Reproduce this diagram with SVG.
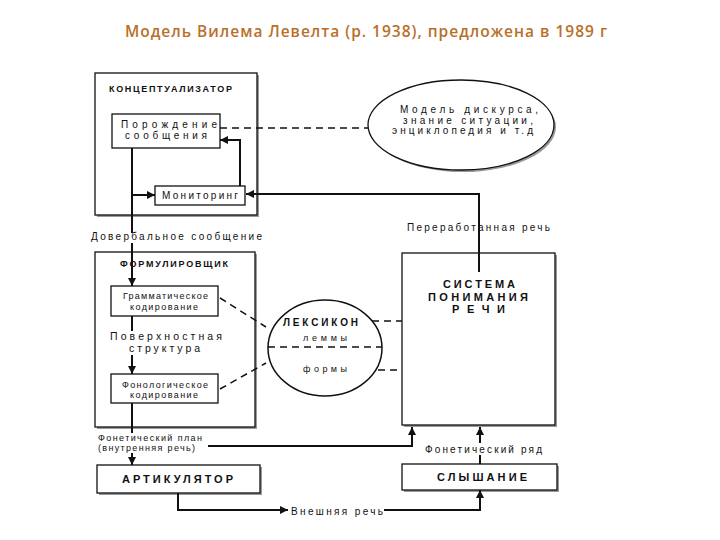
<svg xmlns="http://www.w3.org/2000/svg" width="720" height="540" viewBox="0 0 720 540">
<style>
text{font-family:"Liberation Sans",Arial,sans-serif;fill:#111}
.title{font-family:"Open Sans","Liberation Sans",sans-serif;font-size:15.5px;font-weight:600;fill:#b8702a}
.r9{font-size:9px}
.r10{font-size:10px}
.r105{font-size:10.5px}
.b9{font-size:9px;font-weight:bold}
.b10{font-size:10px;font-weight:bold}
.b11{font-size:11px;font-weight:bold}
.box{fill:#fff;stroke:#111;stroke-width:1.3}
.sh{fill:#9a9a9a}
.ln{fill:none;stroke:#111;stroke-width:2}
.dash{fill:none;stroke:#111;stroke-width:1.5;stroke-dasharray:7,5}
.arr{marker-end:url(#ah)}
</style>
<defs>
<marker id="ah" viewBox="0 0 10 10" refX="10" refY="5" markerWidth="9" markerHeight="8" markerUnits="userSpaceOnUse" orient="auto">
<path d="M0,0 L10,5 L0,10 z" fill="#111"/>
</marker>
</defs>
<rect width="720" height="540" fill="#fff"/>
<text class="title" x="125" y="37" textLength="482" lengthAdjust="spacing">Модель Вилема Левелта (р. 1938), предложена в 1989 г</text>

<g id="conceptualizer">
<rect class="sh" x="97" y="75" width="162" height="142"/>
<rect class="box" x="95" y="73" width="162" height="142"/>
<text class="b9" x="109" y="92" textLength="123" lengthAdjust="spacing">КОНЦЕПТУАЛИЗАТОР</text>
</g>
<g id="generation">
<rect class="box" x="112" y="114" width="108" height="34"/>
<text class="r10" x="121" y="128" textLength="96" lengthAdjust="spacing">Порождение</text>
<text class="r10" x="125" y="139" textLength="82" lengthAdjust="spacing">сообщения</text>
</g>
<g id="monitoring">
<rect class="box" x="155" y="186" width="90" height="19"/>
<text class="r10" x="162" y="199" textLength="76" lengthAdjust="spacing">Мониторинг</text>
</g>
<g id="discourse">
<ellipse cx="463" cy="127" rx="93" ry="45" fill="#9a9a9a"/>
<ellipse cx="461" cy="125" rx="93" ry="45" fill="#fff" stroke="#111" stroke-width="1.3"/>
<text class="r10" x="400" y="113" textLength="138" lengthAdjust="spacing">Модель дискурса,</text>
<text class="r10" x="403" y="123.5" textLength="130" lengthAdjust="spacing">знание ситуации,</text>
<text class="r10" x="392" y="134" textLength="141" lengthAdjust="spacing">энциклопедия и т.д</text>
</g>
<g id="formulator">
<rect class="sh" x="97" y="254" width="160" height="175"/>
<rect class="box" x="95" y="252" width="160" height="175"/>
<text class="b9" x="120" y="267" textLength="108" lengthAdjust="spacing">ФОРМУЛИРОВЩИК</text>
</g>
<g id="grammatical">
<rect class="box" x="111" y="286" width="107" height="30"/>
<text class="r9" x="123" y="299" textLength="85" lengthAdjust="spacing">Грамматическое</text>
<text class="r9" x="130" y="310" textLength="68" lengthAdjust="spacing">кодирование</text>
</g>
<g id="phonological">
<rect class="box" x="111" y="374" width="107" height="29"/>
<text class="r9" x="122" y="388" textLength="86" lengthAdjust="spacing">Фонологическое</text>
<text class="r9" x="130" y="398" textLength="68" lengthAdjust="spacing">кодирование</text>
</g>
<g id="lexicon">
<ellipse cx="325" cy="348" rx="57" ry="48" fill="#fff" stroke="#111" stroke-width="1.5"/>
<line class="dash" x1="268" y1="347" x2="382" y2="347"/>
<text class="b10" x="283" y="326" textLength="75" lengthAdjust="spacing">ЛЕКСИКОН</text>
<text class="r9" x="303" y="341" textLength="44" lengthAdjust="spacing">леммы</text>
<text class="r9" x="303" y="372" textLength="44" lengthAdjust="spacing">формы</text>
</g>
<g id="comprehension">
<rect class="sh" x="404" y="255" width="153" height="172"/>
<rect class="box" x="402" y="253" width="153" height="172"/>
<text class="b11" x="443" y="288" textLength="72" lengthAdjust="spacing">СИСТЕМА</text>
<text class="b11" x="428" y="301" textLength="100" lengthAdjust="spacing">ПОНИМАНИЯ</text>
<text class="b11" x="452" y="313" textLength="53" lengthAdjust="spacing">РЕЧИ</text>
</g>
<g id="articulator">
<rect class="sh" x="99" y="467" width="163" height="28"/>
<rect class="box" x="97" y="465" width="163" height="28"/>
<text class="b11" x="122" y="483" textLength="111" lengthAdjust="spacing">АРТИКУЛЯТОР</text>
</g>
<g id="hearing">
<rect class="sh" x="404" y="466" width="155" height="26"/>
<rect class="box" x="402" y="464" width="155" height="26"/>
<text class="b11" x="437" y="481" textLength="90" lengthAdjust="spacing">СЛЫШАНИЕ</text>
</g>

<g id="connectors">
<path class="ln" d="M132,148 V233"/>
<path class="ln arr" d="M132,243 V286"/>
<path class="ln arr" d="M132,195 H155"/>
<path class="ln arr" d="M240,186 V140 H220"/>
<path class="ln arr" d="M479,272 V194 H246"/>
<path class="dash" d="M220,128 H368"/>
<path class="ln" d="M132,316 V331"/>
<path class="ln arr" d="M132,355 V374"/>
<path class="ln" d="M132,403 V433"/>
<path class="ln arr" d="M132,453 V465"/>
<path class="ln arr" d="M208,446 H412 V427"/>
<path class="ln arr" d="M480,443 V427"/>
<path class="ln" d="M480,464 V455"/>
<path class="ln arr" d="M178,493 V510 H288"/>
<path class="ln arr" d="M384,510 H480 V490"/>
<path class="dash" d="M220,298 L266,327"/>
<path class="dash" d="M220,389 L266,363"/>
<path class="dash" d="M372,321 H402"/>
<path class="dash" d="M378,370 H402"/>
</g>

<g id="labels">
<text class="r10" x="91" y="240" textLength="171" lengthAdjust="spacing">Довербальное сообщение</text>
<text class="r105" x="110" y="340" textLength="112" lengthAdjust="spacing">Поверхностная</text>
<text class="r105" x="129" y="352" textLength="71" lengthAdjust="spacing">структура</text>
<text class="r9" x="98" y="441" textLength="104" lengthAdjust="spacing">Фонетический план</text>
<text class="r9" x="98" y="451" textLength="97" lengthAdjust="spacing">(внутренняя речь)</text>
<text class="r10" x="407" y="231" textLength="143" lengthAdjust="spacing">Переработанная речь</text>
<text class="r10" x="425" y="453" textLength="117" lengthAdjust="spacing">Фонетический ряд</text>
<text class="r10" x="291" y="515" textLength="92" lengthAdjust="spacing">Внешняя речь</text>
</g>
</svg>
